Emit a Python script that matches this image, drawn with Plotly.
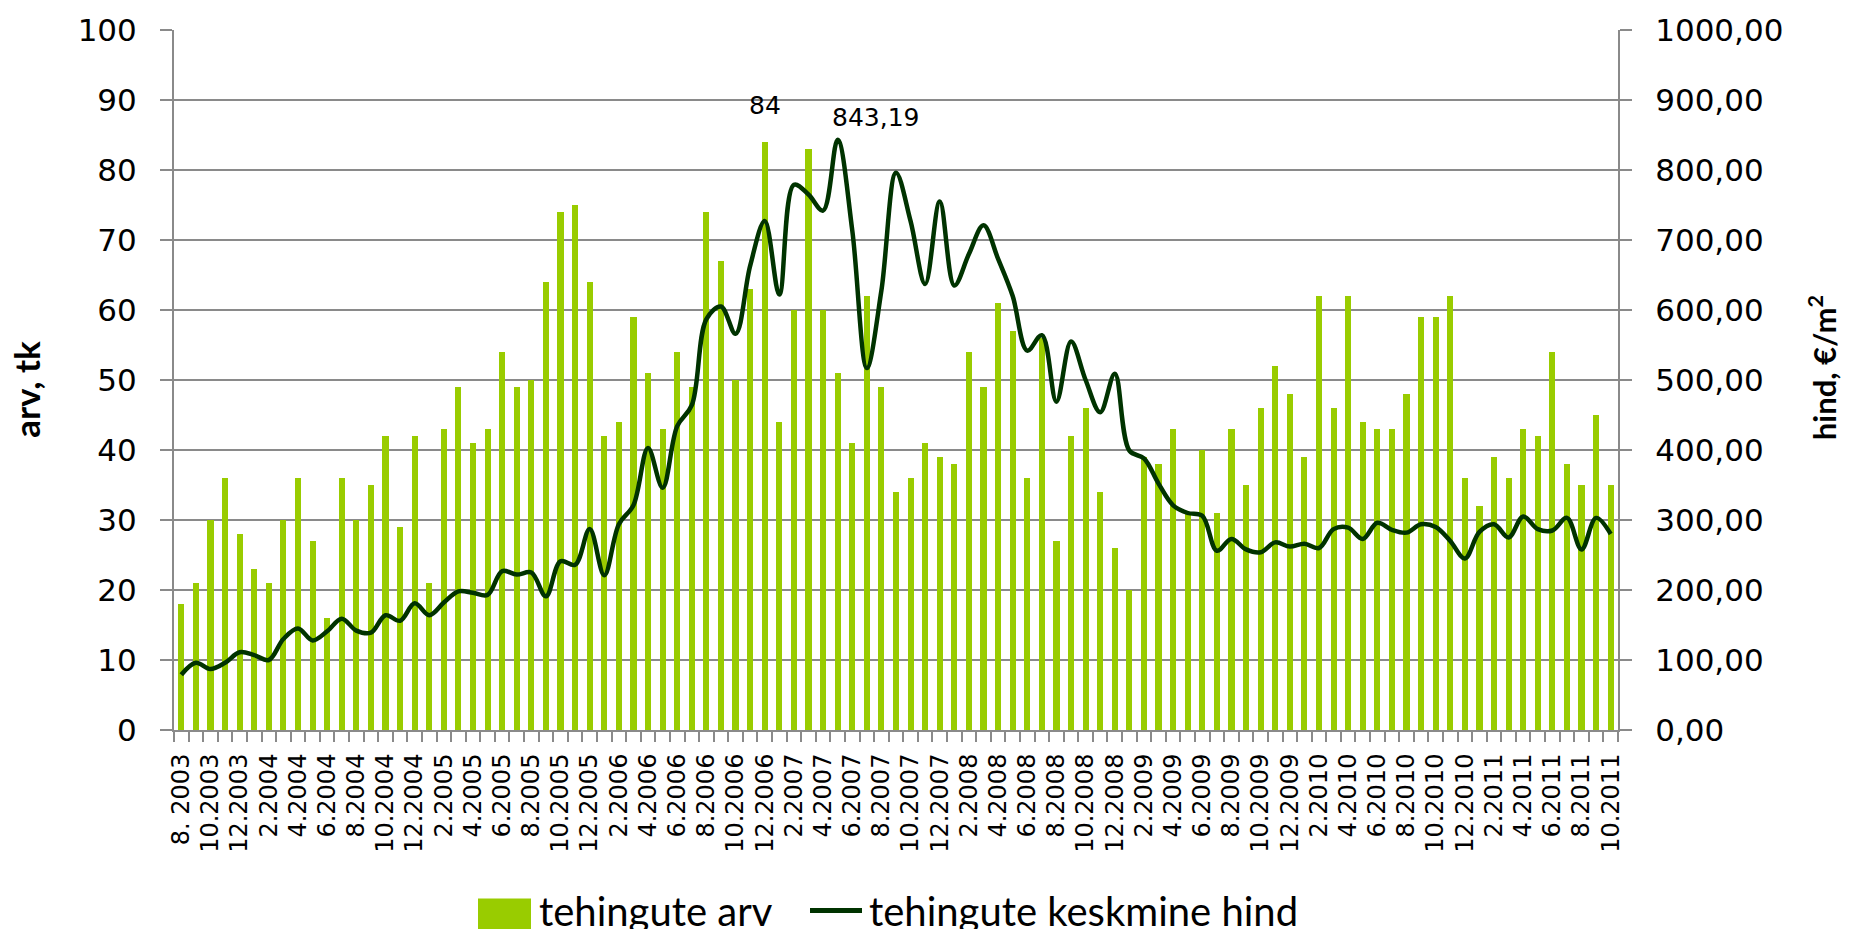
import plotly.graph_objects as go

# Monthly series, 8.2003 - 10.2011
start_year, start_month, n_months = 2003, 8, 99
months = []
for k in range(n_months):
    m = (start_month - 1 + k) % 12 + 1
    y = start_year + (start_month - 1 + k) // 12
    months.append(f"{m}.{y}")
months[0] = "8. 2003"

# Number of transactions (left axis)
tehingute_arv = [
    18, 21, 30, 36, 28,
    23, 21, 30, 36, 27, 16, 36, 30, 35, 42, 29, 42,
    21, 43, 49, 41, 43, 54, 49, 50, 64, 74, 75, 64,
    42, 44, 59, 51, 43, 54, 49, 74, 67, 50, 63, 84,
    44, 60, 83, 60, 51, 41, 62, 49, 34, 36, 41, 39,
    38, 54, 49, 61, 57, 36, 56, 27, 42, 46, 34, 26,
    20, 39, 38, 43, 31, 40, 31, 43, 35, 46, 52, 48,
    39, 62, 46, 62, 44, 43, 43, 48, 59, 59, 62, 36,
    32, 39, 36, 43, 42, 54, 38, 35, 45, 35,
]

# Average price, EUR/m2 (right axis)
keskmine_hind = [
    79, 96, 87, 96, 111,
    107, 100, 130, 145, 128, 141, 159, 142, 139, 164, 156, 181,
    164, 182, 198, 196, 193, 227, 222, 225, 191, 241, 236, 287,
    221, 294, 321, 403, 346, 434, 464, 587, 605, 566, 663, 727,
    622, 779, 765, 742, 843.19, 714, 517, 628, 796, 727, 637, 755,
    635, 680, 721, 673, 620, 542, 564, 469, 555, 500, 454, 509,
    399, 388, 352, 321, 310, 306, 256, 273, 258, 254, 268, 262,
    266, 260, 287, 289, 273, 296, 286, 282, 294, 290, 270, 245,
    283, 294, 275, 305, 287, 285, 303, 258, 303, 280,
]

x_idx = list(range(len(months)))
tick_idx = x_idx[::2]
tick_text = months[::2]

BAR_COLOR = "#99CC00"
LINE_COLOR = "#003300"
GRID = "#8a8a8a"

# plot-area geometry in pixels
W, H = 1859, 929
L, R, T, B = 174, 1618, 20, 730


def px(xp):
    return (xp - L) / (R - L)


def py(yp):
    return (B - yp) / (B - T)


fig = go.Figure()
fig.add_trace(go.Bar(
    x=x_idx, y=tehingute_arv, name="tehingute arv",
    marker=dict(color=BAR_COLOR, line=dict(width=0)), width=0.42,
    yaxis="y",
))
fig.add_trace(go.Scatter(
    x=x_idx, y=keskmine_hind, name="tehingute keskmine hind",
    mode="lines", line=dict(color=LINE_COLOR, width=4.5, shape="spline", smoothing=1),
    yaxis="y2",
))

sans = "DejaVu Sans, Verdana, sans-serif"
tick_font = dict(family=sans, size=31, color="#000000")
humanist = "Lato, Roboto, sans-serif"

fig.update_layout(
    width=W, height=H, autosize=False,
    margin=dict(l=L, r=W - R, t=T, b=H - B, pad=0),
    paper_bgcolor="white", plot_bgcolor="white",
    separators=", ",
    showlegend=False,
    bargap=0,
    xaxis=dict(
        range=[-0.5, len(months) - 0.5],
        tickmode="array", tickvals=tick_idx, ticktext=tick_text,
        tickangle=-90, ticks="",
        tickfont=dict(family=sans, size=24, color="#000000"),
        ticklabelstandoff=12,
        showline=True, linecolor=GRID, linewidth=2,
        showgrid=False, zeroline=False,
        minor=dict(tickmode="array", tickvals=[i - 0.5 for i in range(len(months) + 1)],
                   ticks="outside", ticklen=10, tickwidth=2, tickcolor=GRID, showgrid=False),
    ),
    yaxis=dict(
        range=[0, 100], dtick=10, tick0=0,
        tickfont=tick_font,
        ticks="outside", ticklen=12, tickwidth=2, tickcolor=GRID,
        ticklabelstandoff=17,
        showline=True, linecolor=GRID, linewidth=2,
        showgrid=True, gridcolor=GRID, gridwidth=1.6,
        zeroline=False,
    ),
    yaxis2=dict(
        range=[0, 1000], dtick=100, tick0=0, tickformat=".2f",
        overlaying="y", side="right",
        tickfont=tick_font,
        ticks="outside", ticklen=12, tickwidth=2, tickcolor=GRID,
        ticklabelstandoff=17,
        showline=True, linecolor=GRID, linewidth=2,
        showgrid=False, zeroline=False,
    ),
)

annotations = [
    # value labels
    dict(x=40, y=tehingute_arv[40], xref="x", yref="y", text=str(tehingute_arv[40]),
         showarrow=False, yanchor="bottom", yshift=20,
         font=dict(family=sans, size=25, color="#000000")),
    dict(x=45, y=keskmine_hind[45], xref="x", yref="y2",
         text=f"{keskmine_hind[45]:.2f}".replace(".", ","),
         showarrow=False, yanchor="bottom", xshift=38, yshift=6,
         font=dict(family=sans, size=25, color="#000000")),
    # axis titles
    dict(x=px(26), y=py(385), xref="paper", yref="paper", text="<b>arv, tk</b>",
         textangle=-90, showarrow=False, xanchor="center", yanchor="middle",
         font=dict(family=humanist, size=35, color="#000000")),
    dict(x=px(1822), y=py(363), xref="paper", yref="paper", text="<b>hind, €/m<sup>2</sup></b>",
         textangle=-90, showarrow=False, xanchor="center", yanchor="middle",
         font=dict(family=humanist, size=31, color="#000000")),
    # legend texts
    dict(x=px(537), y=py(914), xref="paper", yref="paper", text="tehingute arv",
         showarrow=False, xanchor="left", yanchor="middle",
         font=dict(family=humanist, size=40, color="#000000")),
    dict(x=px(867), y=py(914), xref="paper", yref="paper", text="tehingute keskmine hind",
         showarrow=False, xanchor="left", yanchor="middle",
         font=dict(family=humanist, size=40, color="#000000")),
]
fig.update_layout(annotations=annotations)

# legend keys
fig.add_shape(type="rect", xref="paper", yref="paper",
              x0=px(478), x1=px(531), y0=py(945), y1=py(901),
              fillcolor=BAR_COLOR, line=dict(width=0), layer="above")
fig.add_shape(type="line", xref="paper", yref="paper",
              x0=px(810), x1=px(862), y0=py(913), y1=py(913),
              line=dict(color=LINE_COLOR, width=5), layer="above")

fig.write_html("out.html")
